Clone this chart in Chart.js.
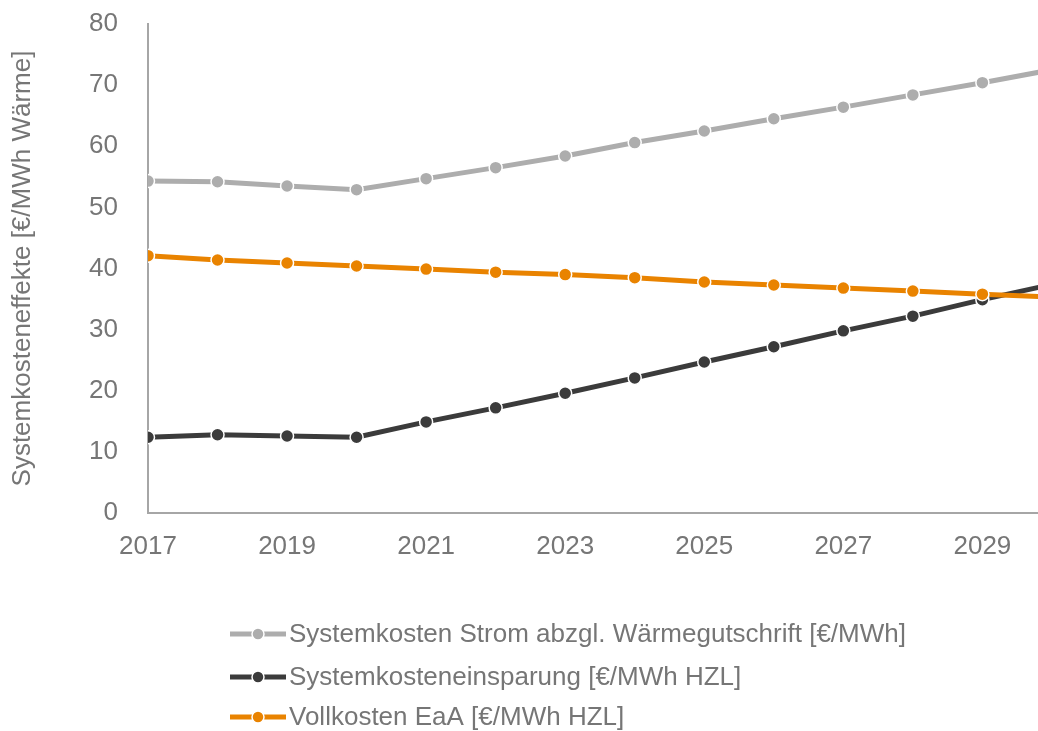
<!DOCTYPE html>
<html>
<head>
<meta charset="utf-8">
<script src="https://cdn.jsdelivr.net/npm/chart.js@4"></script>
<style>
  html, body { margin: 0; padding: 0; background: #fff; }
  #wrap { width: 1038px; height: 731px; position: relative; }
</style>
</head>
<body>
<div id="wrap"><canvas id="chart"></canvas></div>
<script>
// Years and values
const years = [2017, 2018, 2019, 2020, 2021, 2022, 2023, 2024, 2025, 2026, 2027, 2028, 2029, 2030];
const stromMinusWaerme = [54.3, 54.2, 53.5, 52.9, 54.7, 56.5, 58.4, 60.6, 62.5, 64.5, 66.4, 68.4, 70.4, 72.5];
const einsparung = [12.4, 12.8, 12.6, 12.4, 14.9, 17.2, 19.6, 22.1, 24.7, 27.2, 29.8, 32.2, 34.9, 37.4];
const vollkosten = [42.1, 41.4, 40.9, 40.4, 39.9, 39.4, 39.0, 38.5, 37.8, 37.3, 36.8, 36.3, 35.8, 35.3];
const xTicks = [2017, 2019, 2021, 2023, 2025, 2027, 2029];
const seriesNames = [
    'Systemkosten Strom abzgl. Wärmegutschrift [€/MWh]',
    'Systemkosteneinsparung [€/MWh HZL]',
    'Vollkosten EaA [€/MWh HZL]'
];
const yTitle = 'Systemkosteneffekte [€/MWh Wärme]';

const textColor = '#767676';
const axisColor = '#a6a6a6';
const fontFamily = '"Liberation Sans", Arial, sans-serif';
const fontSize = 26;

function toPoints(values) {
    return values.map((v, i) => ({ x: years[i], y: v }));
}

function makeDataset(label, values, color, order) {
    return {
        label: label,
        data: toPoints(values),
        borderColor: color,
        backgroundColor: color,
        borderWidth: 5,
        pointRadius: 6.5,
        pointBorderWidth: 1.5,
        pointBorderColor: '#ffffff',
        pointBackgroundColor: color,
        tension: 0,
        clip: 0,
        order: order
    };
}

// Vertical legend under the plot, drawn on the canvas
const stackedLegend = {
    id: 'stackedLegend',
    afterDraw(chart) {
        const ctx = chart.ctx;
        const rows = [634, 677, 717];
        ctx.save();
        ctx.font = fontSize + 'px ' + fontFamily;
        ctx.textBaseline = 'middle';
        ctx.textAlign = 'left';
        chart.data.datasets.forEach((ds, i) => {
            const y = rows[i];
            ctx.strokeStyle = ds.borderColor;
            ctx.lineWidth = 5;
            ctx.beginPath();
            ctx.moveTo(230, y);
            ctx.lineTo(286, y);
            ctx.stroke();
            ctx.fillStyle = ds.borderColor;
            ctx.beginPath();
            ctx.arc(258, y, 6, 0, Math.PI * 2);
            ctx.fill();
            ctx.strokeStyle = '#ffffff';
            ctx.lineWidth = 1.5;
            ctx.stroke();
            ctx.fillStyle = textColor;
            ctx.fillText(ds.label, 289, y + 1);
        });
        ctx.restore();
    }
};

const ctx = document.getElementById('chart').getContext('2d');
new Chart(ctx, {
    type: 'line',
    data: {
        datasets: [
            makeDataset(seriesNames[0], stromMinusWaerme, '#adadad', 2),
            makeDataset(seriesNames[1], einsparung, '#3b3b3b', 1),
            makeDataset(seriesNames[2], vollkosten, '#e98300', 0)
        ]
    },
    options: {
        responsive: true,
        maintainAspectRatio: false,
        animation: false,
        events: [],
        layout: { autoPadding: false, padding: { top: 24, right: 0, bottom: 0, left: 0 } },
        plugins: {
            legend: { display: false },
            tooltip: { enabled: false }
        },
        scales: {
            x: {
                type: 'linear',
                min: 2017,
                max: 2029.8,
                afterBuildTicks: function(scale) {
                    scale.ticks = xTicks.map(v => ({ value: v }));
                },
                afterFit: function(scale) {
                    scale.height = 218;
                    scale.paddingLeft = 0;
                    scale.paddingRight = 0;
                },
                grid: { display: false, drawTicks: false },
                border: { display: true, color: axisColor, width: 2 },
                ticks: {
                    color: textColor,
                    padding: 18,
                    maxRotation: 0,
                    autoSkip: false,
                    font: { family: fontFamily, size: fontSize },
                    callback: v => String(v)
                }
            },
            y: {
                min: 0,
                max: 80,
                afterFit: function(scale) {
                    scale.width = 148;
                    scale.paddingTop = 0;
                    scale.paddingBottom = 0;
                },
                grid: { display: false, drawTicks: false },
                border: { display: true, color: axisColor, width: 2 },
                ticks: {
                    stepSize: 10,
                    color: textColor,
                    padding: 30,
                    font: { family: fontFamily, size: fontSize }
                },
                title: {
                    display: true,
                    text: yTitle,
                    color: textColor,
                    padding: { top: 7, bottom: 0 },
                    font: { family: fontFamily, size: fontSize }
                }
            }
        }
    },
    plugins: [stackedLegend]
});
</script>
</body>
</html>
